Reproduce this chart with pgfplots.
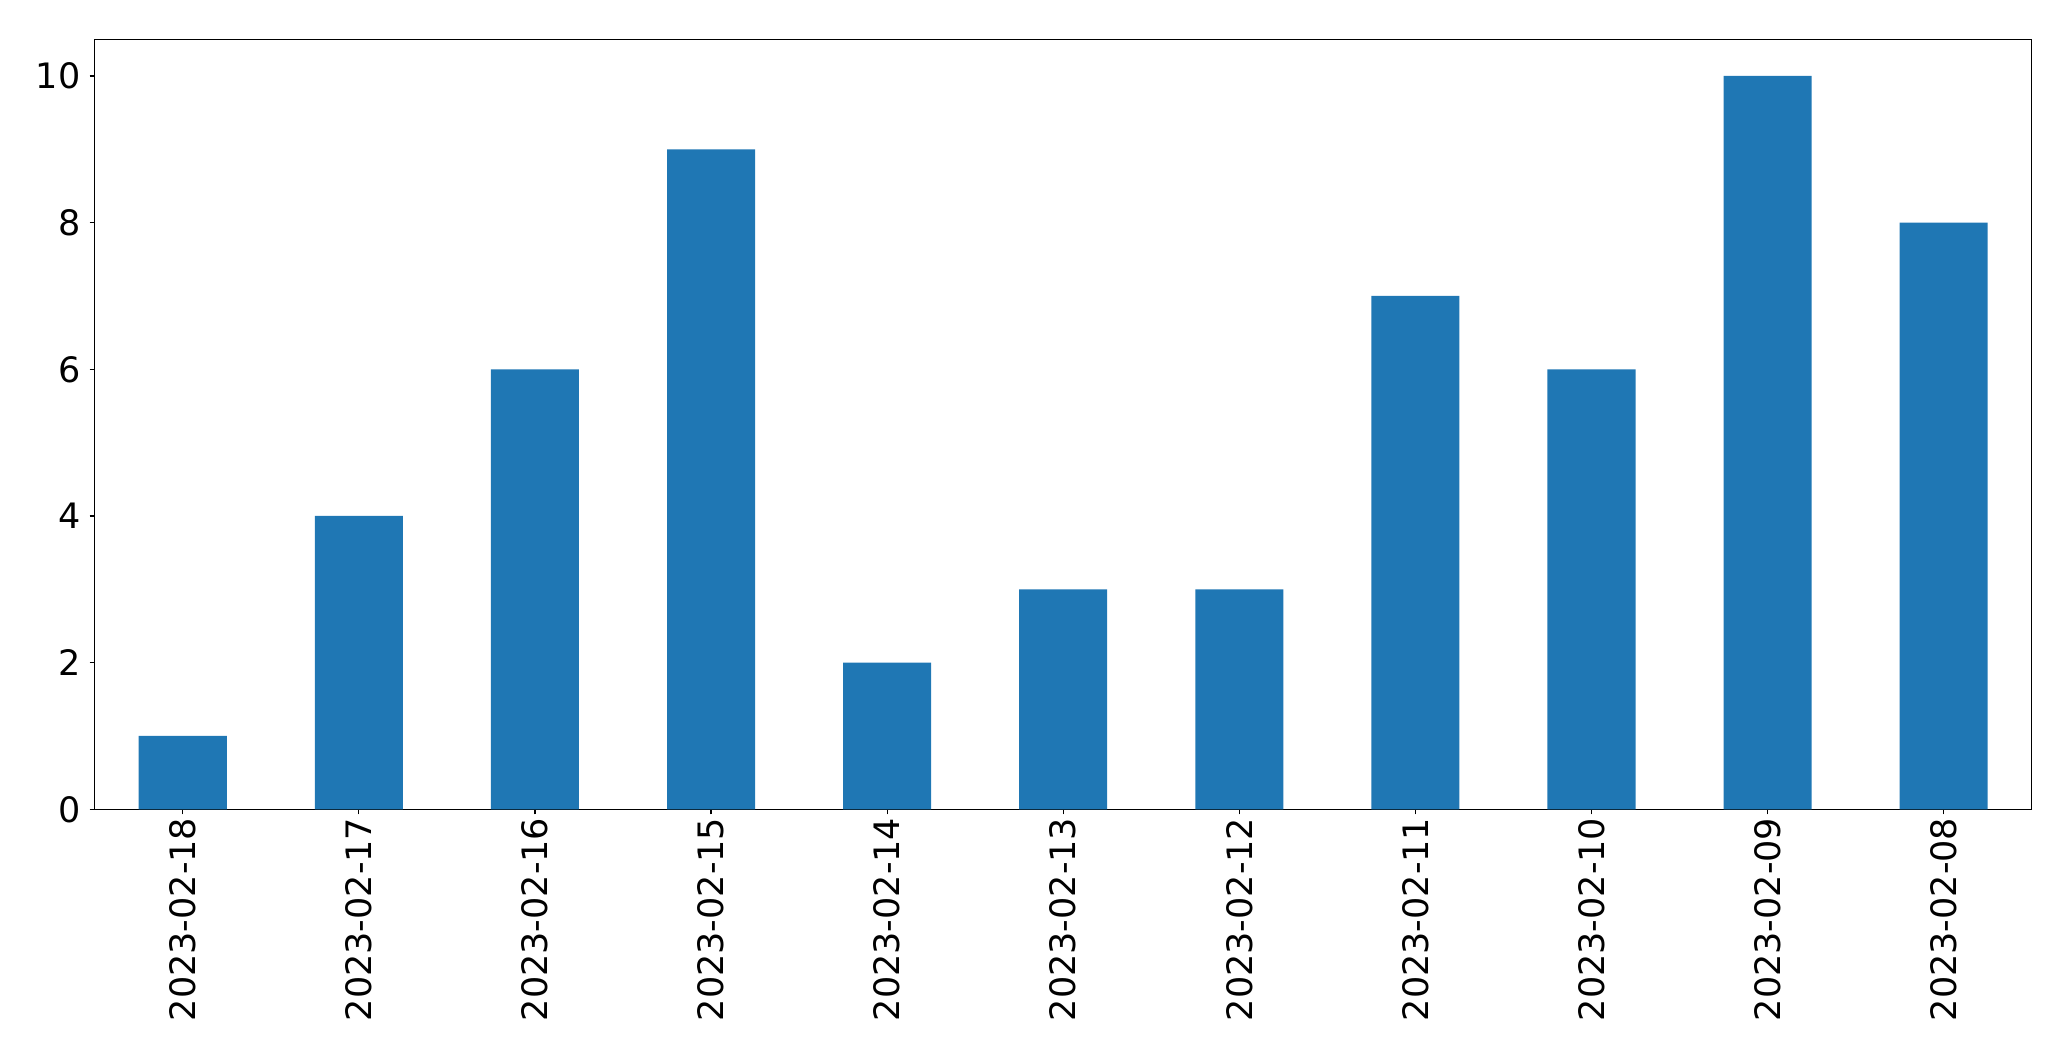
\documentclass[border=0pt]{standalone}
\usepackage{fontspec}
\setmainfont{DejaVu Sans}
\usepackage{pgfplots}
\pgfplotsset{compat=1.18}
\usetikzlibrary{calc}
\definecolor{barblue}{HTML}{1F77B4}
\begin{document}
\fontsize{17.5pt}{21pt}\selectfont
\begin{tikzpicture}
\begin{axis}[
  scale only axis,
  width=968.5pt, height=385pt,
  xmin=-0.5, xmax=10.5, ymin=0, ymax=10.5,
  ytick={0,2,4,6,8,10},
  xtick={0,1,2,3,4,5,6,7,8,9,10},
  xticklabels={2023-02-18,2023-02-17,2023-02-16,2023-02-15,2023-02-14,2023-02-13,2023-02-12,2023-02-11,2023-02-10,2023-02-09,2023-02-08},
  xticklabel style={yshift=-1.5pt, rotate=90, anchor=east, inner sep=0pt},
  yticklabel style={inner sep=0pt, xshift=-4.5pt},
  tick align=outside,
  major tick length=2.5pt,
  tick style={black, line width=0.6pt},
  xtick pos=bottom, ytick pos=left,
  axis line style={line width=0.7pt},
  /pgf/number format/assume math mode=true,
  tick label style={font=\fontsize{17.5pt}{21pt}\selectfont},
]
\addplot[ybar, bar width=0.5, fill=barblue, draw=none, bar shift=0pt] coordinates {
(0,1) (1,4) (2,6) (3,9) (4,2) (5,3) (6,3) (7,7) (8,6) (9,10) (10,8)
};
\end{axis}
\pgfresetboundingbox
\path[use as bounding box] ($(current axis.south west)+(-47.35pt,-125.85pt)$) rectangle ($(current axis.north east)+(19.65pt,19.65pt)$);
\end{tikzpicture}
\end{document}
